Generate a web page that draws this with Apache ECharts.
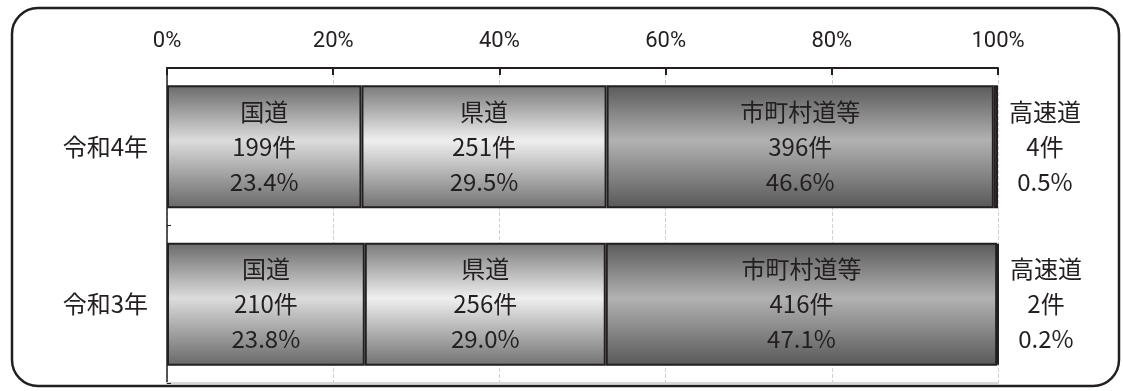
<!DOCTYPE html>
<html><head><meta charset="utf-8">
<script src="https://cdn.jsdelivr.net/npm/echarts@6/dist/echarts.min.js"></script>
<style>html,body{margin:0;padding:0;background:#fff}#c{width:1123px;height:391px}</style>
</head><body><div id="c"></div>
<script>
const categories = ['令和4年', '令和3年'];
const seriesNames = ['国道', '県道', '市町村道等', '高速道'];
const kokudoCount = [199, 210];
const kendoCount = [251, 256];
const shichosonCount = [396, 416];
const kosokuCount = [4, 2];
const kokudoPct = [23.4, 23.8];
const kendoPct = [29.5, 29.0];
const shichosonPct = [46.6, 47.1];
const kosokuPct = [0.5, 0.2];
const xTicks = [0, 20, 40, 60, 80, 100];

const counts = [kokudoCount, kendoCount, shichosonCount, kosokuCount];
const pcts = [kokudoPct, kendoPct, shichosonPct, kosokuPct];
const grads = [
  ['#6a6a6a', '#dcdcdc', '#686868'],
  ['#7a7a7a', '#efefef', '#727272'],
  ['#5a5a5a', '#b2b2b2', '#585858'],
  ['#5a5a5a', '#b2b2b2', '#585858']
];
const FONT = '"Noto Sans CJK JP", "Noto Sans", sans-serif';
const TXT = '#231f20';

function grad(c) {
  return new echarts.graphic.LinearGradient(0, 0, 0, 1, [
    {offset: 0, color: c[0]}, {offset: 0.45, color: c[1]}, {offset: 1, color: c[2]}
  ]);
}

const series = seriesNames.map((name, si) => ({
  name: name,
  type: 'bar',
  stack: 'total',
  barWidth: '78%',
  data: pcts[si].slice(),
  itemStyle: {color: grad(grads[si]), borderColor: TXT, borderWidth: 2},
  label: si < 3 ? {
    show: true, position: 'inside', color: TXT, fontSize: 24, fontFamily: FONT,
    lineHeight: 35,
    formatter: p => name + '\n' + counts[si][p.dataIndex] + '件\n' + pcts[si][p.dataIndex].toFixed(1) + '%'
  } : {
    show: true, position: 'right', distance: 47, align: 'center', color: TXT, fontSize: 24, fontFamily: FONT,
    lineHeight: 35,
    formatter: p => name + '\n' + counts[si][p.dataIndex] + '件\n' + pcts[si][p.dataIndex].toFixed(1) + '%'
  }
}));

const chart = echarts.init(document.getElementById('c'));
chart.setOption({
  animation: false,
  graphic: [{
    type: 'rect', silent: true, z: -10,
    shape: {x: 12, y: 8, width: 1107, height: 378, r: 26},
    style: {fill: 'none', stroke: '#231f20', lineWidth: 2.5}
  }],
  grid: {left: 167, right: 125, top: 68, bottom: 8},
  xAxis: [{
    type: 'value', position: 'top', min: 0, max: 100, interval: 20,
    axisLine: {show: true, lineStyle: {color: TXT, width: 2}},
    axisTick: {show: true, inside: true, length: 7, lineStyle: {color: TXT, width: 2}},
    axisLabel: {formatter: v => xTicks.includes(v) ? v + '%' : '', color: TXT, fontSize: 22,
      fontFamily: '"Liberation Sans Narrow", "Roboto", sans-serif', margin: 16},
    splitLine: {show: true, lineStyle: {color: '#d0d0d0', type: 'dashed', width: 1}}
  }, {
    type: 'value', position: 'bottom', min: 0, max: 100, interval: 20,
    axisLine: {show: true, lineStyle: {color: '#d8d8d8', width: 2}},
    axisTick: {show: false}, axisLabel: {show: false}, splitLine: {show: false}
  }],
  yAxis: {
    type: 'category', data: categories, inverse: true,
    axisLine: {show: true, lineStyle: {color: TXT, width: 1.5}},
    axisTick: {show: true, inside: true, length: 4, lineStyle: {color: TXT}},
    axisLabel: {color: TXT, fontSize: 24, fontFamily: FONT, margin: 19}
  },
  series: series
});
</script></body></html>
